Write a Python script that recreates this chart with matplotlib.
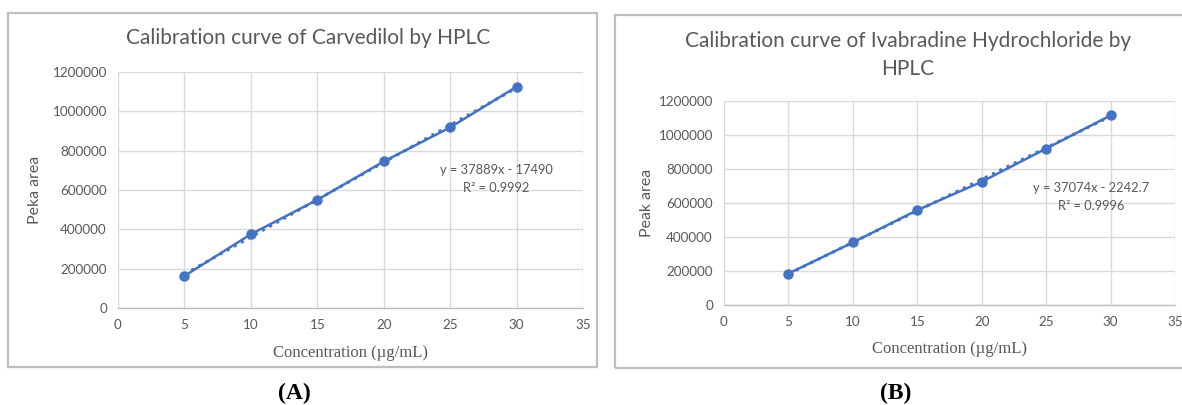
import matplotlib
matplotlib.use("Agg")
import matplotlib.pyplot as plt
from matplotlib.patches import Rectangle
import numpy as np

# Data
conc = [5, 10, 15, 20, 25, 30]
area_carvedilol = [163000, 375000, 550000, 745000, 918000, 1125000]
area_ivabradine = [185000, 368000, 558000, 725000, 920000, 1115000]
fit_carvedilol = (37889, -17490)
fit_ivabradine = (37074, -2242.7)
eq_carvedilol = ["y = 37889x - 17490", "R² = 0.9992"]
eq_ivabradine = ["y = 37074x - 2242.7", "R² = 0.9996"]
titles = ["Calibration curve of Carvedilol by HPLC",
          "Calibration curve of Ivabradine Hydrochloride by\nHPLC"]
ylabels = ["Peka area", "Peak area"]
xlabel = "Concentration (µg/mL)"
panel_labels = ["(A)", "(B)"]
xticks = [0, 5, 10, 15, 20, 25, 30, 35]
yticks = [0, 200000, 400000, 600000, 800000, 1000000, 1200000]

W, H = 1182, 405
fig = plt.figure(figsize=(W / 100, H / 100), dpi=100)

BLUE = "#4472C4"
GRAY_TXT = "#595959"
GRID = "#D9D9D9"
SANS = ["Lato", "DejaVu Sans"]
SERIF = ["Liberation Serif", "DejaVu Serif"]

def px_rect(x0, y0, x1, y1):
    return [x0 / W, 1 - y1 / H, (x1 - x0) / W, (y1 - y0) / H]

panels = [
    dict(frame=(8, 13, 597, 367), ax=(118, 72, 583, 308), title_xy=(308, 38),
         ylab_x=35, xlab_y=353, lab_xy=(294, 393), eq_xy=(496, 170),
         y=area_carvedilol, fit=fit_carvedilol, eq=eq_carvedilol),
    dict(frame=(615, 15, 1190, 368), ax=(724, 101, 1175, 305), title_xy=(908, 55),
         ylab_x=647, xlab_y=349, lab_xy=(896, 393), eq_xy=(1091, 188),
         y=area_ivabradine, fit=fit_ivabradine, eq=eq_ivabradine),
]

for i, p in enumerate(panels):
    fx0, fy0, fx1, fy1 = p["frame"]
    fig.patches.append(Rectangle((fx0 / W, 1 - fy1 / H), (fx1 - fx0) / W, (fy1 - fy0) / H,
                                 transform=fig.transFigure, fill=False,
                                 edgecolor="#BFBFBF", linewidth=1.6))
    ax = fig.add_axes(px_rect(*p["ax"]))
    ax.set_xlim(0, 35)
    ax.set_ylim(0, 1200000)
    ax.set_xticks(xticks)
    ax.set_yticks(yticks)
    ax.set_xticklabels([str(t) for t in xticks], family=SANS, fontsize=9.7, color=GRAY_TXT)
    ax.set_yticklabels([str(t) for t in yticks], family=SANS, fontsize=9.7, color=GRAY_TXT)
    ax.tick_params(length=0, pad=8)
    ax.grid(True, color=GRID, linewidth=1.0)
    ax.set_axisbelow(True)
    for s in ["top", "right", "left"]:
        ax.spines[s].set_visible(False)
    ax.spines["bottom"].set_color("#BFBFBF")
    ax.spines["bottom"].set_linewidth(1.0)

    xs = np.array([conc[0], conc[-1]])
    m, b = p["fit"]
    ax.plot(xs, m * xs + b, linestyle=":", color=BLUE, linewidth=2.2, zorder=2)
    ax.plot(conc, p["y"], color=BLUE, linewidth=1.8, marker="o", markersize=6.5, zorder=3)

    ex, ey = p["eq_xy"]
    fig.text(ex / W, 1 - ey / H, p["eq"][0], ha="center", va="center",
             family=SANS, fontsize=9.3, color=GRAY_TXT)
    fig.text(ex / W, 1 - (ey + 18) / H, p["eq"][1], ha="center", va="center",
             family=SANS, fontsize=9.3, color=GRAY_TXT)

    tx, ty = p["title_xy"]
    fig.text(tx / W, 1 - ty / H, titles[i], ha="center", va="center",
             family=SANS, fontsize=15, color=GRAY_TXT, linespacing=1.45)
    ay0, ay1 = p["ax"][1], p["ax"][3]
    fig.text(p["ylab_x"] / W, 1 - (ay0 + ay1) / 2 / H, ylabels[i], rotation=90,
             ha="center", va="center", family=SANS, fontsize=11.4, color=GRAY_TXT)
    ax0, ax1 = p["ax"][0], p["ax"][2]
    fig.text((ax0 + ax1) / 2 / W, 1 - p["xlab_y"] / H, xlabel, ha="center", va="center",
             family=SERIF, fontsize=12, color=GRAY_TXT)
    lx, ly = p["lab_xy"]
    fig.text(lx / W, 1 - ly / H, panel_labels[i], ha="center", va="center",
             family=SERIF, fontsize=17, fontweight="bold", color="black")

fig.savefig("out.png", dpi=100)
